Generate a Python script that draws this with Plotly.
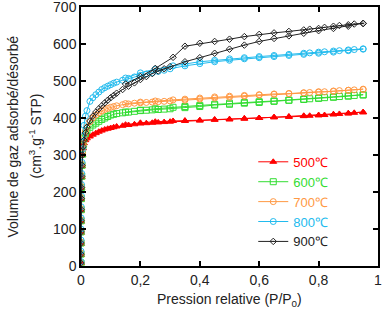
import plotly.graph_objects as go

# Adsorption pressures (P/P0) shared by all samples
p_ads = [0.00005, 0.0001, 0.0002, 0.0003, 0.0005, 0.0008, 0.0012, 0.0018, 0.0025, 0.0035,
         0.005, 0.007, 0.01, 0.015, 0.02, 0.03, 0.04, 0.05, 0.06, 0.07, 0.08, 0.09, 0.10,
         0.11, 0.12, 0.14, 0.16, 0.18, 0.20, 0.22, 0.24, 0.26, 0.28, 0.30, 0.35, 0.40, 0.45,
         0.50, 0.55, 0.60, 0.65, 0.70, 0.75, 0.80, 0.85, 0.90, 0.95]
# Desorption pressures
p_des = [0.95, 0.92, 0.90, 0.87, 0.85, 0.82, 0.80, 0.77, 0.75, 0.70, 0.65, 0.60, 0.55,
         0.50, 0.45, 0.40, 0.35, 0.31, 0.25, 0.20, 0.15]

v_ads_500 = [8, 30, 60, 90, 120, 150, 180, 210, 240, 270, 300, 318, 332, 340, 345, 350, 355,
             359, 363, 366, 369, 371, 373, 375, 377, 379, 381, 383, 385, 386, 387, 388, 389,
             390, 392, 393, 395, 396, 398, 400, 402, 404, 406, 408, 410, 412, 415]
v_des_500 = [416, 414, 413, 411, 410, 408, 407, 406, 405, 403, 402, 400, 399, 397, 396, 394,
             393, 392, 390, 387, 382]

v_ads_600 = [8, 32, 62, 92, 122, 152, 182, 212, 242, 272, 302, 325, 345, 358, 366, 375, 381,
             386, 391, 396, 400, 404, 408, 410, 412, 414, 416, 418, 420, 421, 422, 423, 424,
             425, 428, 431, 435, 437, 440, 442, 445, 448, 450, 453, 456, 459, 462]
v_des_600 = [463, 461, 460, 458, 457, 455, 454, 452, 451, 448, 446, 444, 442, 440, 437, 434,
             431, 429, 425, 421, 416]

v_ads_700 = [10, 35, 65, 95, 125, 155, 185, 215, 245, 275, 305, 330, 350, 365, 375, 390, 400,
             408, 414, 419, 423, 426, 429, 431, 433, 436, 438, 440, 441, 442, 443, 444, 445,
             446, 448, 451, 454, 456, 459, 462, 464, 466, 468, 470, 472, 475, 477]
v_des_700 = [478, 476, 475, 474, 473, 471, 471, 469, 468, 466, 465, 463, 461, 459, 457, 454,
             451, 449, 446, 443, 439]

v_ads_800 = [12, 40, 70, 100, 130, 160, 190, 220, 250, 280, 315, 350, 380, 405, 420, 445, 455,
             463, 470, 477, 482, 486, 490, 494, 497, 502, 507, 511, 515, 519, 522, 526, 529,
             533, 541, 547, 552, 556, 560, 563, 566, 569, 572, 575, 578, 582, 586]
v_des_800 = [587, 585, 584, 582, 581, 579, 578, 576, 575, 572, 569, 566, 563, 560, 556, 552,
             546, 541, 532, 522, 508]

v_ads_900 = [8, 32, 62, 92, 122, 152, 182, 212, 242, 272, 300, 322, 340, 360, 375, 392, 405,
             416, 425, 433, 441, 448, 455, 461, 467, 477, 486, 495, 504, 512, 520, 527, 533,
             539, 552, 563, 575, 586, 597, 607, 615, 622, 629, 636, 642, 648, 655]
v_des_900 = [656, 654, 652, 650, 648, 645, 642, 640, 638, 634, 630, 626, 620, 613, 607, 602,
             594, 564, 534, 512, 492]

labels = ["500℃", "600℃", "700℃", "800℃", "900℃"]
colors = ["#ff0000", "#33dd33", "#ff9944", "#22bbee", "#222222"]
symbols = ["triangle-up", "square-open", "circle-open", "circle-open", "diamond-open-dot"]
sizes = [6, 6, 6, 6, 5]
ads = [v_ads_500, v_ads_600, v_ads_700, v_ads_800, v_ads_900]
des = [v_des_500, v_des_600, v_des_700, v_des_800, v_des_900]

fig = go.Figure()
for lab, col, sym, sz, va, vd in zip(labels, colors, symbols, sizes, ads, des):
    fig.add_trace(go.Scatter(
        x=p_ads + p_des, y=va + vd, mode="lines+markers",
        name=f"<span style='color:{col}'>{lab}</span>",
        line=dict(color=col, width=1),
        marker=dict(symbol=sym, size=sz, color=col, line=dict(color=col, width=1)),
    ))

font = "Liberation Sans, Arial, sans-serif"
txt = "#222"
axis_common = dict(
    showline=True, linecolor="black", linewidth=1.5, mirror="ticks",
    ticks="inside", ticklen=5, tickwidth=1.5, tickcolor="black",
    showgrid=False, zeroline=False, automargin=False, ticklabeloverflow="allow",
    tickfont=dict(family=font, size=14, color=txt),
)
fig.update_xaxes(range=[0, 1], tickvals=[0, 0.2, 0.4, 0.6, 0.8, 1],
                 ticktext=["0", "0,2", "0,4", "0,6", "0,8", "1"],
                 **axis_common)
fig.update_yaxes(range=[0, 700], dtick=100, **axis_common)

fig.add_annotation(text="Pression relative (P/P<sub>0</sub>)", xref="paper", yref="paper",
                   x=0.5, y=0, yshift=-34, xanchor="center", yanchor="middle",
                   showarrow=False, font=dict(family=font, size=14, color=txt))
fig.add_annotation(text="Volume de gaz adsorbé/désorbé", xref="paper", yref="paper",
                   x=0, y=0.5, xshift=-69, xanchor="center", yanchor="middle",
                   textangle=-90, showarrow=False,
                   font=dict(family=font, size=14, color=txt))
fig.add_annotation(text="(cm<sup>3</sup>.g<sup>-1</sup> STP)", xref="paper", yref="paper",
                   x=0, y=0.5, xshift=-46, xanchor="center", yanchor="middle",
                   textangle=-90, showarrow=False,
                   font=dict(family=font, size=14, color=txt))

fig.update_layout(
    width=387, height=309,
    margin=dict(l=81, r=9, t=7, b=43, autoexpand=False),
    plot_bgcolor="white", paper_bgcolor="white",
    showlegend=True,
    legend=dict(x=0.58, y=0.46, xanchor="left", yanchor="top",
                bgcolor="rgba(0,0,0,0)", font=dict(family=font, size=13),
                tracegroupgap=0),
)

fig.write_html("out.html")
